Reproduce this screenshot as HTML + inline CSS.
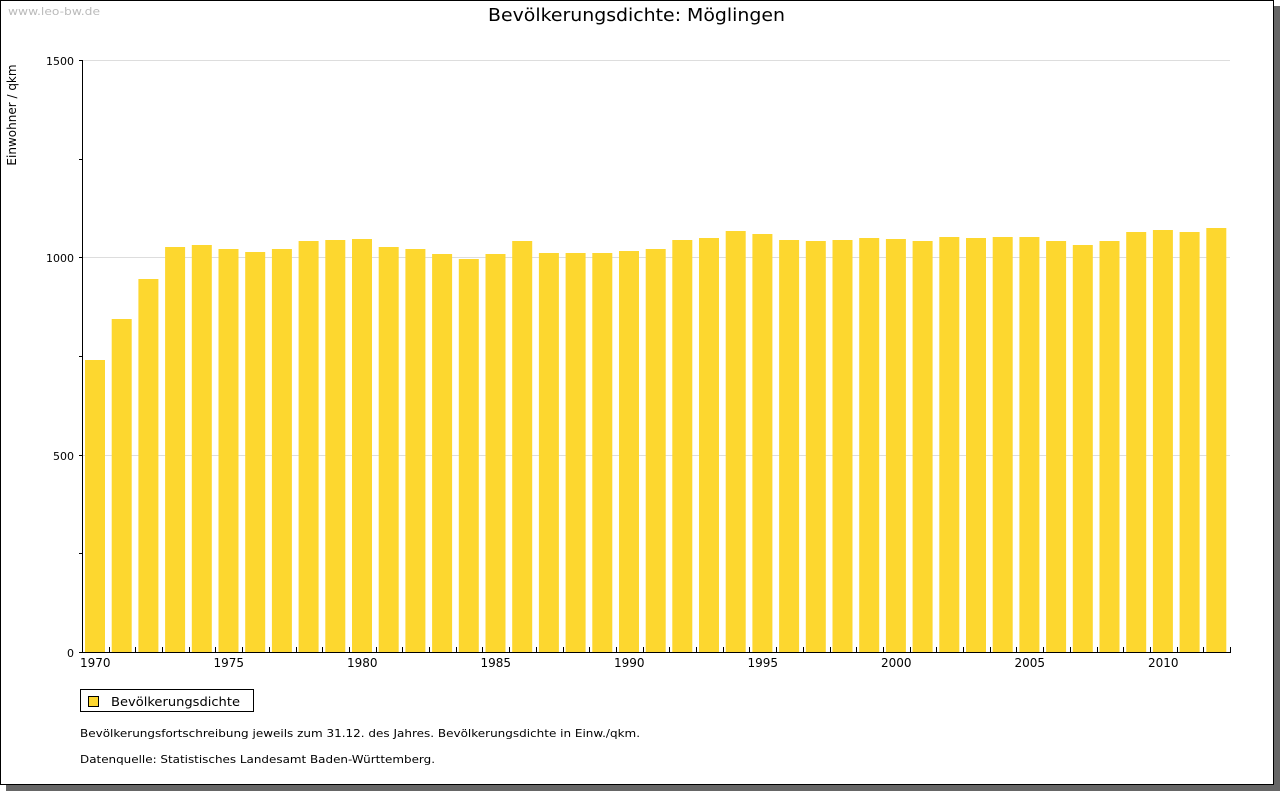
<!DOCTYPE html>
<html><head><meta charset="utf-8"><style>
body{margin:0;background:#fff;width:1280px;height:791px;overflow:hidden;font-family:"DejaVu Sans","Liberation Sans",sans-serif}
</style></head><body>
<svg width="1280" height="791" xmlns="http://www.w3.org/2000/svg" font-family="DejaVu Sans, Liberation Sans, sans-serif">
<rect x="6" y="6" width="1274" height="785" fill="#666"/>
<rect x="0.5" y="0.5" width="1273" height="784" fill="#fff" stroke="#000"/>
<text x="8" y="15" font-size="11" fill="#bbb" textLength="92" lengthAdjust="spacingAndGlyphs">www.leo-bw.de</text>
<text x="488" y="21" font-size="18" fill="#000" textLength="297" lengthAdjust="spacingAndGlyphs">Bevölkerungsdichte: Möglingen</text>
<text transform="translate(16,115) rotate(-90)" font-size="12" text-anchor="middle">Einwohner / qkm</text>
<g stroke="#ddd" stroke-width="1">
<line x1="82" y1="60.5" x2="1230" y2="60.5"/>
<line x1="82" y1="257.5" x2="1230" y2="257.5"/>
<line x1="82" y1="455.5" x2="1230" y2="455.5"/>
</g>
<g id="bars" fill="#fdd72f"></g>
<g stroke="#000" stroke-width="1">
<line x1="82.5" y1="60" x2="82.5" y2="653"/>
<line x1="82" y1="652.5" x2="1231" y2="652.5"/>
<line x1="79" y1="60.5" x2="83" y2="60.5"/>
<line x1="79" y1="159.5" x2="83" y2="159.5"/>
<line x1="79" y1="257.5" x2="83" y2="257.5"/>
<line x1="79" y1="356.5" x2="83" y2="356.5"/>
<line x1="79" y1="455.5" x2="83" y2="455.5"/>
<line x1="79" y1="553.5" x2="83" y2="553.5"/>
<line x1="79" y1="652.5" x2="83" y2="652.5"/>
</g>
<g id="ticks" stroke="#000"></g>
<g font-size="11" text-anchor="end">
<text x="74" y="65">1500</text><text x="74" y="262">1000</text><text x="74" y="460">500</text><text x="74" y="657">0</text>
</g>
<g id="xl" font-size="12" text-anchor="middle"></g>
<rect x="80.5" y="689.5" width="173" height="22" fill="#fff" stroke="#000"/>
<rect x="88.5" y="696.5" width="10" height="10" fill="#fdd72f" stroke="#000"/>
<text x="111" y="706" font-size="12" textLength="129" lengthAdjust="spacingAndGlyphs">Bevölkerungsdichte</text>
<text x="80" y="737" font-size="11" textLength="560" lengthAdjust="spacingAndGlyphs">Bevölkerungsfortschreibung jeweils zum 31.12. des Jahres. Bevölkerungsdichte in Einw./qkm.</text>
<text x="80" y="763" font-size="11" textLength="355" lengthAdjust="spacingAndGlyphs">Datenquelle: Statistisches Landesamt Baden-Württemberg.</text>
</svg>
<script>
var tops=[360,319,279,247,245,249,252,249,241,240,239,247,249,254,259,254,241,253,253,253,251,249,240,238,231,234,240,241,240,238,239,241,237,238,237,237,241,245,241,232,230,232,228];
var ns="http://www.w3.org/2000/svg",b=document.getElementById("bars"),t=document.getElementById("ticks"),xl=document.getElementById("xl");
var w=1148/43;
tops.forEach(function(y,i){var r=document.createElementNS(ns,"rect");var x=82+i*w+3;
r.setAttribute("x",x.toFixed(1));r.setAttribute("y",y);r.setAttribute("width",20);r.setAttribute("height",652-y);b.appendChild(r);
var l=document.createElementNS(ns,"line");var tx=Math.round(82+(i+1)*w)+0.5;l.setAttribute("x1",tx);l.setAttribute("x2",tx);l.setAttribute("y1",647);l.setAttribute("y2",652);t.appendChild(l);
if(i%5==0){var s=document.createElementNS(ns,"text");s.setAttribute("x",(82+i*w+w/2).toFixed(1));s.setAttribute("y",667);s.textContent=1970+i;xl.appendChild(s);}});
</script>
</body></html>
